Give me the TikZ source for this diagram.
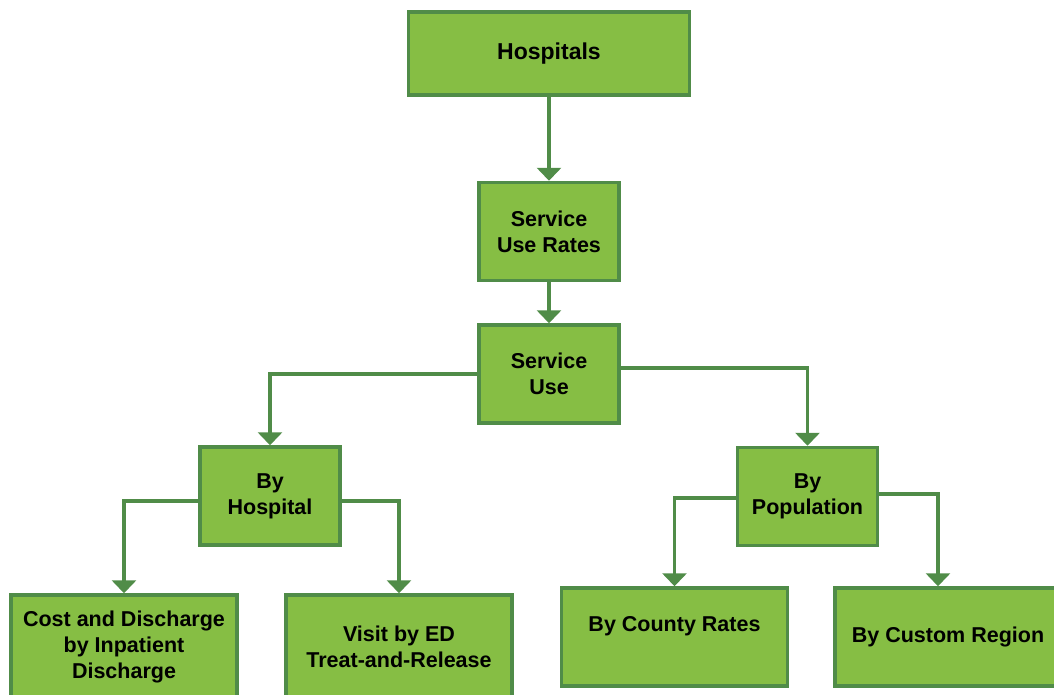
\documentclass[tikz,border=0pt]{standalone}
\usepackage{fontspec}
\setmainfont{Liberation Sans}
\usepackage{xcolor}
\usepackage{tikz}
\usetikzlibrary{arrows.meta,positioning,calc}
\definecolor{boxfill}{RGB}{134,190,68}
\definecolor{boxline}{RGB}{80,140,72}

\begin{document}
\begin{tikzpicture}[x=1pt,y=-1pt,
  font=\bfseries\fontsize{21.5}{26}\selectfont,
  box/.style={rectangle,draw=boxline,fill=boxfill,line width=3.5pt,align=center,inner sep=0pt,minimum width=140pt,minimum height=98pt},
  wide/.style={box,minimum width=226pt},
  arrow/.style={-{Triangle[width=24pt,length=13pt]},draw=boxline,line width=3.5pt}
]
\useasboundingbox (0,0) rectangle (1054,694);
\node[box,minimum width=281pt,minimum height=83pt,font=\bfseries\fontsize{23}{26}\selectfont] (hosp) at (549,53.5) {Hospitals};
\node[box,below=84pt of hosp] (sur) {Service\\Use Rates};
\node[box,below=41pt of sur] (su) {Service\\Use};
\node[box] (byh) at (270,496) {By\\Hospital};
\node[box] (byp) at (807.5,496.5) {By\\Population};
\node[wide,minimum height=103pt] (cost) at (124,646.5) {Cost and Discharge\\by Inpatient\\Discharge};
\node[wide,minimum height=103pt] (ed) at (399,646.5) {Visit by ED\\Treat-and-Release};
\node[wide] (cty) at (674.5,637) {By County Rates\\[-8pt]\strut};
\node[wide] (cust) at (948,637) {By Custom Region};
\draw[arrow] (hosp) -- (sur);
\draw[arrow] (sur) -- (su);
\draw[arrow] (su.west) -| (byh);
\draw[arrow] ([yshift=6pt]su.east) -| (byp);
\draw[arrow] ([yshift=-5pt]byh.west) -| (cost);
\draw[arrow] ([yshift=-5pt]byh.east) -| (ed);
\draw[arrow] ([yshift=-1.5pt]byp.west) -| (cty);
\draw[arrow] ([yshift=2.5pt]byp.east) -| ([xshift=-10pt]cust.north);
\end{tikzpicture}
\end{document}
